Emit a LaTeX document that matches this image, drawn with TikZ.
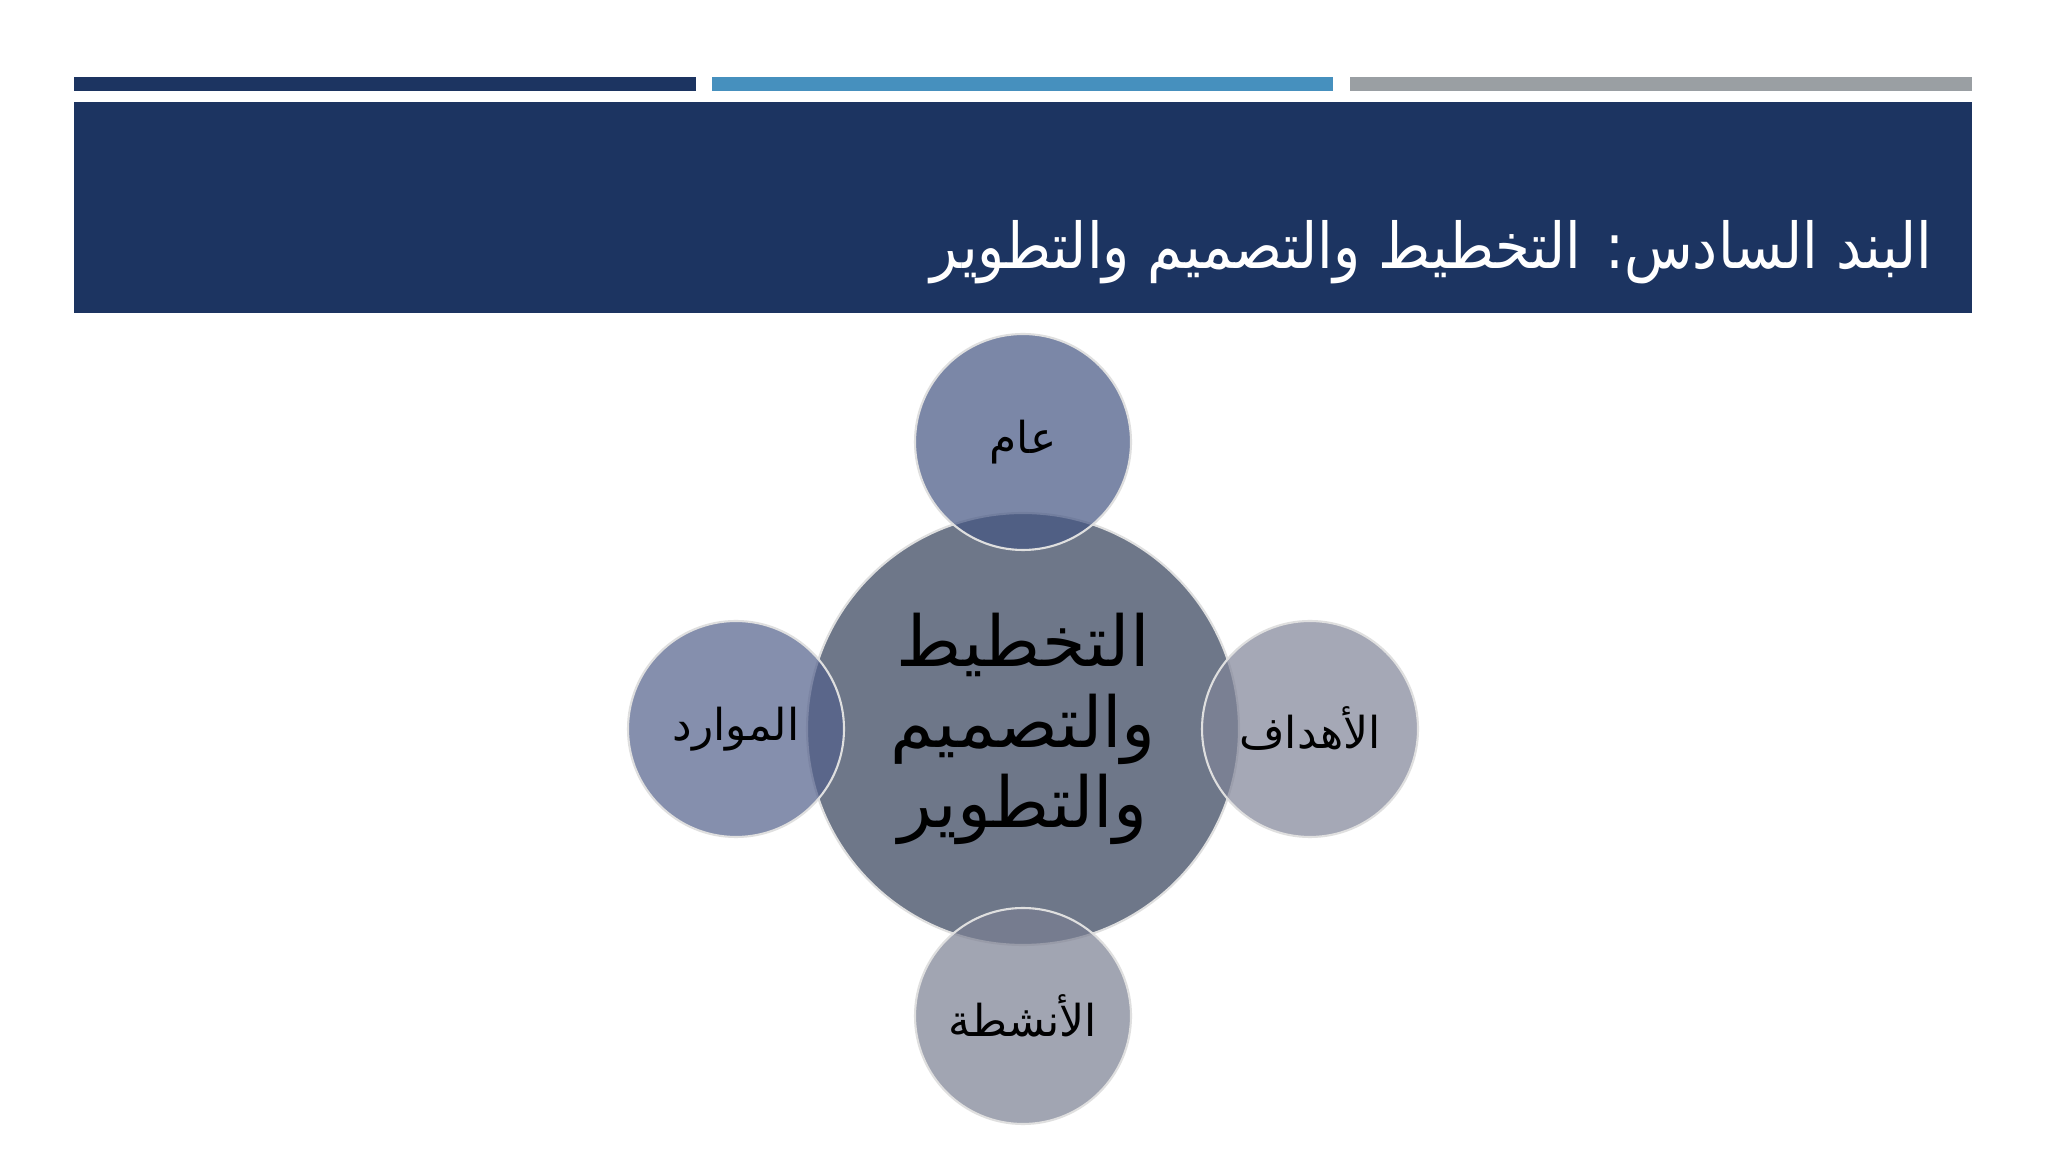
\documentclass[tikz,border=0pt]{standalone}
\usepackage{fontspec}
\usepackage{xcolor}
\usepackage{graphicx}
\newfontfamily\arabicfont[Script=Arabic]{DejaVu Sans}
\TeXXeTstate=1

\definecolor{navy}{RGB}{28,52,97}
\definecolor{barblue}{RGB}{70,144,190}
\definecolor{bargray}{RGB}{154,159,163}
\definecolor{midfill}{RGB}{110,119,137}
\definecolor{topfill}{RGB}{68,85,131}
\definecolor{leftfill}{RGB}{82,96,139}
\definecolor{rightfill}{RGB}{128,132,152}
\definecolor{downfill}{RGB}{122,127,146}

\begin{document}
\begin{tikzpicture}[x=0.1mm, y=-0.1mm,
	bigcirc/.style={circle, draw=white!75!gray, line width=0.6pt, minimum size=43.2mm, inner sep=0pt,
		align=center, font=\arabicfont\fontsize{20}{23}\selectfont},
	smallcirc/.style={circle, draw=white!75!gray, line width=0.6pt, minimum size=21.6mm, inner sep=0pt,
		fill opacity=0.7, text opacity=1, font=\arabicfont\fontsize{12.5}{15}\selectfont}]
	\useasboundingbox (0,0) rectangle (2048,1152);
	\fill[white] (0,0) rectangle (2048,1152);

	% Draw the three bars and the title banner
	\fill[navy] (74,77) rectangle (696,91);
	\fill[barblue] (712,77) rectangle (1333,91);
	\fill[bargray] (1350,77) rectangle (1972,91);
	\fill[navy] (74,102) rectangle (1972,313);
	\node[anchor=east, text=white, inner sep=0pt, font=\arabicfont\fontsize{18}{22}\selectfont] (title) at (1933,252)
		{\scalebox{0.89}[1]{\beginR البند السادس: التخطيط والتصميم والتطوير\endR}};

	% Draw the circles, the middle one first
	\node[bigcirc, fill=midfill] (plan) at (1023,729)
		{\beginR التخطيط\endR\\\beginR والتصميم\endR\\\beginR والتطوير\endR};
	\node[smallcirc, fill=topfill] (aam) at (1023,442) {\beginR عام\endR};
	\node[smallcirc, fill=leftfill] (mawarid) at (736,729) {\beginR الموارد\endR};
	\node[smallcirc, fill=rightfill] (ahdaf) at (1310,729) {\beginR الأهداف\endR};
	\node[smallcirc, fill=downfill] (anshita) at (1023,1016) {\beginR الأنشطة\endR};
\end{tikzpicture}
\end{document}
